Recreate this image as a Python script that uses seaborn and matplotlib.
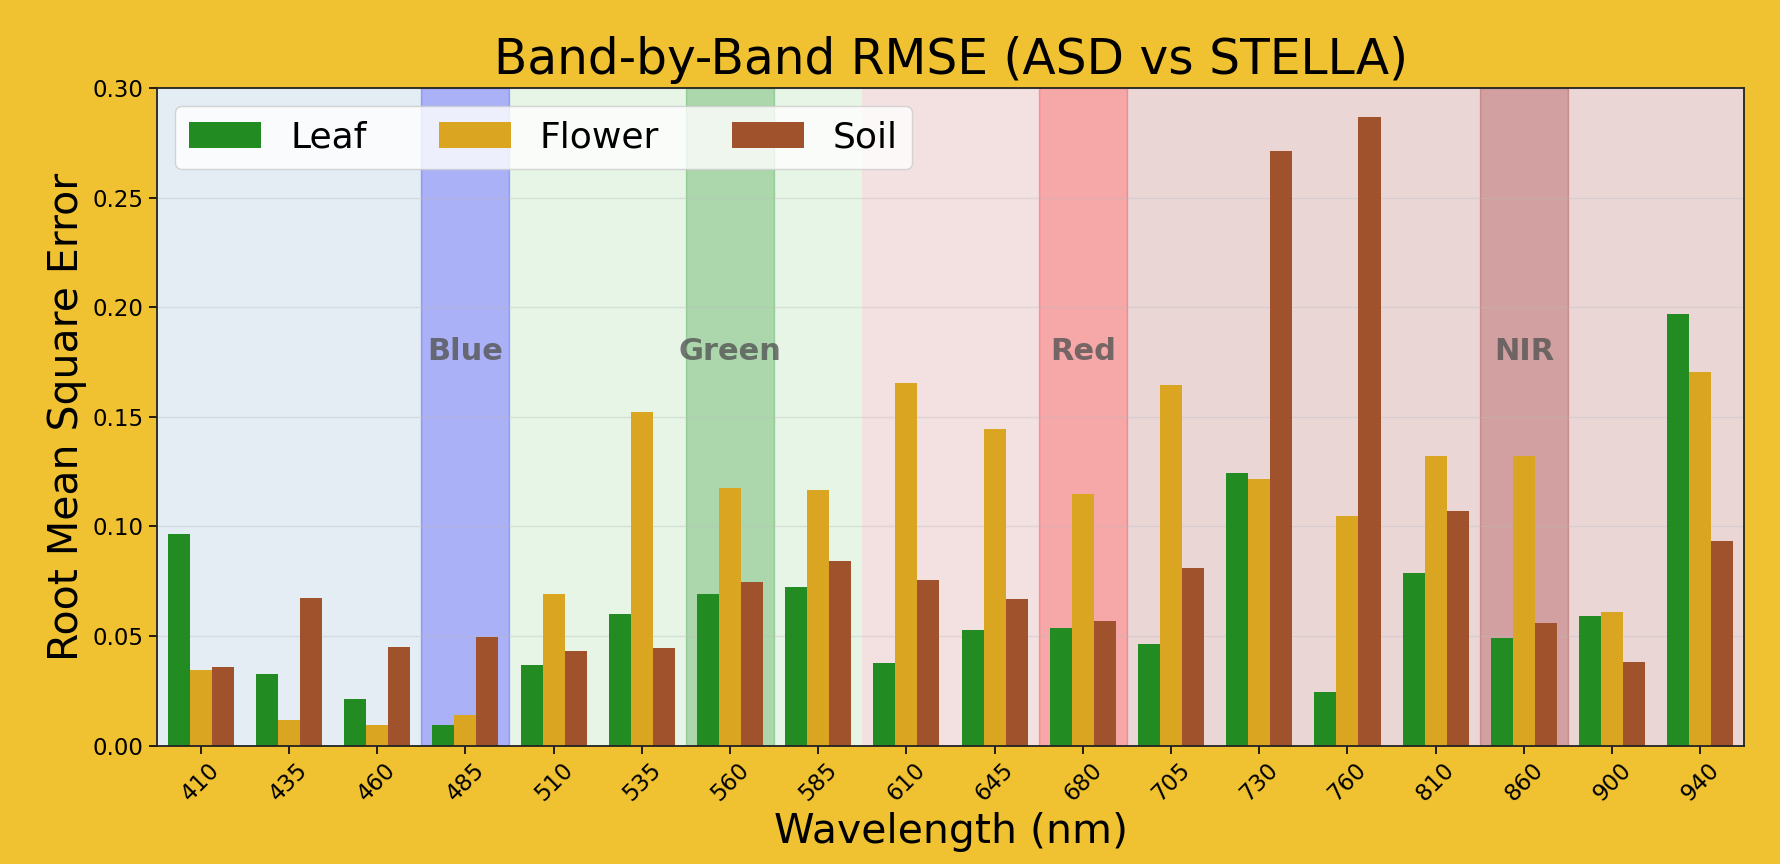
import matplotlib
matplotlib.use("Agg")
import matplotlib.pyplot as plt
import seaborn as sns
import pandas as pd
import numpy as np

# wavelength bands (nm) and RMSE per sample type
wavelengths = ['410', '435', '460', '485', '510', '535', '560', '585', '610',
               '645', '680', '705', '730', '760', '810', '860', '900', '940']
leaf = [0.0965, 0.0327, 0.0213, 0.0092, 0.0367, 0.0602, 0.0691, 0.0722, 0.0375,
        0.0529, 0.0537, 0.0465, 0.1242, 0.0245, 0.0787, 0.0489, 0.0592, 0.1971]
flower = [0.0343, 0.0116, 0.0092, 0.0141, 0.0691, 0.1524, 0.1174, 0.1168, 0.1654,
          0.1443, 0.1150, 0.1647, 0.1217, 0.1046, 0.1320, 0.1320, 0.0610, 0.1703]
soil = [0.0359, 0.0674, 0.0448, 0.0497, 0.0433, 0.0446, 0.0748, 0.0844, 0.0754,
        0.0667, 0.0569, 0.0812, 0.2714, 0.2867, 0.1070, 0.0561, 0.0382, 0.0933]

samples = ['Leaf', 'Flower', 'Soil']
palette = {'Leaf': '#228B22', 'Flower': '#DAA520', 'Soil': '#A0522D'}

# spectral regions (background) and highlighted bands
region_colors = ['#E3EDF3', '#E6F5E6', '#F3E0E0', '#EBD6D6']
region_edges = ['410', '510', '610', '705']
band_names = ['Blue', 'Green', 'Red', 'NIR']
band_centers = ['485', '560', '680', '860']
band_colors = ['blue', 'green', 'red', 'darkred']

df = pd.DataFrame({
    'Wavelength': wavelengths * 3,
    'RMSE': leaf + flower + soil,
    'Sample': np.repeat(samples, len(wavelengths)),
})

sns.set_style('ticks')
plt.rcParams['font.family'] = ['DejaVu Sans']
plt.rcParams['text.color'] = 'black'
plt.rcParams['axes.labelcolor'] = 'black'
plt.rcParams['xtick.color'] = 'black'
plt.rcParams['ytick.color'] = 'black'

fig, ax = plt.subplots(figsize=(17.8, 8.64), dpi=100)
fig.patch.set_facecolor('#F0C232')
fig.subplots_adjust(left=0.088, right=0.980, bottom=0.137, top=0.898)

sns.barplot(data=df, x='Wavelength', y='RMSE', hue='Sample', order=wavelengths,
            hue_order=samples, palette=palette, width=0.75, saturation=1,
            linewidth=0, ax=ax, zorder=2)

n = len(wavelengths)
starts = [wavelengths.index(w) - 0.5 for w in region_edges]
ends = starts[1:] + [n - 0.5]
for s, e, c in zip(starts, ends, region_colors):
    ax.axvspan(s, e, color=c, zorder=0, lw=0)

for name, center, c in zip(band_names, band_centers, band_colors):
    i = wavelengths.index(center)
    ax.axvspan(i - 0.5, i + 0.5, color=c, alpha=0.25, zorder=0.3)
    ax.text(i, 0.18, name, ha='center', va='center', fontsize=22,
            fontweight='bold', color='#555555', alpha=0.8, zorder=3)

ax.set_xlim(-0.5, n - 0.5)
ax.set_ylim(0, 0.30)
ax.set_yticks(np.arange(0, 0.301, 0.05))
ax.yaxis.grid(True, color='#bbbbbb', alpha=0.35, lw=1)
ax.set_axisbelow(True)

ax.set_title('Band-by-Band RMSE (ASD vs STELLA)', fontsize=35, pad=10)
ax.set_xlabel('Wavelength (nm)', fontsize=29.5)
ax.set_ylabel('Root Mean Square Error', fontsize=29.5)
ax.tick_params(axis='both', labelsize=16.5, length=6, width=1.2)
plt.setp(ax.get_xticklabels(), rotation=45)
for sp in ax.spines.values():
    sp.set_linewidth(1.3)
    sp.set_color('#222222')

ax.legend(loc='upper left', ncol=3, fontsize=26, framealpha=0.8, title=None,
          handlelength=2.0, columnspacing=2.0)

fig.savefig('out.png', dpi=100, facecolor=fig.get_facecolor())
